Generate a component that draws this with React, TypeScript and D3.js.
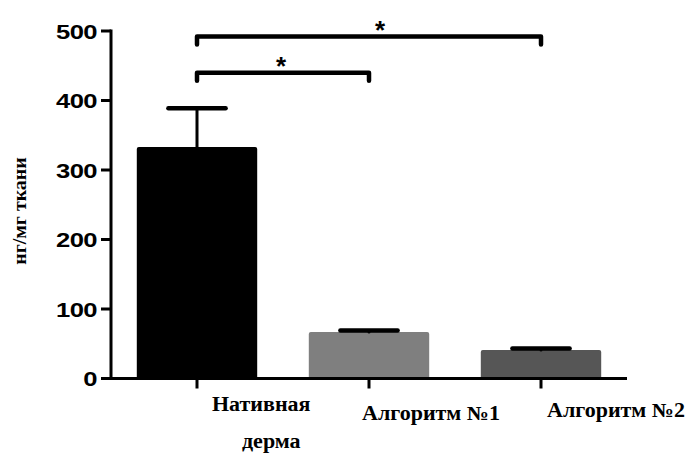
import React from "react";
import * as d3 from "d3";

const categories = ["Нативная|дерма", "Алгоритм №1", "Алгоритм №2"];
const means = [333, 67, 41];
const sems = [56, 2, 2];
const barColors = ["#000000", "#7f7f7f", "#565656"];
const yTicks = [0, 100, 200, 300, 400, 500];
const yLabel = "нг/мг ткани";
const comparisons = [
  { from: 0, to: 1, level: 440, label: "*" },
  { from: 0, to: 2, level: 492, label: "*" },
];
// label layout (offset from band center, baseline)
const labelDx = [15, -7, 6];
const labelY = [411, 420, 417];

export default function App() {
  const W = 688, H = 453;
  const x0 = 111, x1 = 627, yBase = 378.5, yTop = 31;
  const x = d3.scaleBand<string>().domain(categories).range([x0, x1]).paddingInner(0.3).paddingOuter(0.15);
  const y = d3.scaleLinear().domain([0, 500]).range([yBase, yTop]);
  const bw = x.bandwidth();
  const cx = (c: string) => (x(c) as number) + bw / 2;
  const capW = bw * 0.475;

  return (
    <svg width={W} height={H} style={{ position: "absolute", left: 0, top: 0, background: "#fff" }}>
      {/* bars */}
      {categories.map((c, i) => (
        <rect key={c} x={x(c)} y={y(means[i])} width={bw} height={yBase - y(means[i])} fill={barColors[i]} rx={2} />
      ))}
      {/* error bars */}
      {categories.map((c, i) => (
        <g key={"e" + c} stroke="#000" strokeLinecap="round">
          <line x1={cx(c)} x2={cx(c)} y1={y(means[i])} y2={y(means[i] + sems[i])} strokeWidth={3} />
          <line x1={cx(c) - capW / 2} x2={cx(c) + capW / 2} y1={y(means[i] + sems[i])} y2={y(means[i] + sems[i])} strokeWidth={4.5} />
        </g>
      ))}
      {/* y axis */}
      <line x1={x0} x2={x0} y1={yTop - 1.5} y2={yBase + 1.5} stroke="#000" strokeWidth={3} />
      {yTicks.map((t) => (
        <g key={t}>
          <line x1={x0 - 10} x2={x0} y1={y(t)} y2={y(t)} stroke="#000" strokeWidth={3} />
          <text
            transform={`translate(${x0 - 14},${y(t) + 7.5}) scale(1.22,1)`}
            textAnchor="end"
            fontFamily="Liberation Sans, Arial, sans-serif"
            fontWeight="bold"
            fontSize={21}
            letterSpacing={-0.5}
            fill="#000"
          >
            {t}
          </text>
        </g>
      ))}
      {/* x axis */}
      <line x1={x0 - 1.5} x2={x1} y1={yBase} y2={yBase} stroke="#000" strokeWidth={3} />
      {categories.map((c) => (
        <line key={"t" + c} x1={cx(c)} x2={cx(c)} y1={yBase} y2={yBase + 10} stroke="#000" strokeWidth={3} />
      ))}
      {/* x labels */}
      {categories.map((c, i) => {
        const lines = c.split("|");
        return (
          <g key={"l" + c} fontFamily="Liberation Serif, Times New Roman, serif" fontWeight="bold" fontSize={20} fill="#000">
            <text transform={`translate(${cx(c) + labelDx[i]},${labelY[i]}) scale(1.1,1)`} textAnchor="start">
              {lines[0]}
            </text>
            {lines[1] && (
              <text transform={`translate(${cx(c) + labelDx[i] + 30},${labelY[i] + 37}) scale(1.1,1)`} textAnchor="start">
                {lines[1]}
              </text>
            )}
          </g>
        );
      })}
      {/* y label */}
      <text
        transform={`translate(26,211) rotate(-90) scale(1.05,1)`}
        textAnchor="middle"
        fontFamily="Liberation Serif, Times New Roman, serif"
        fontWeight="bold"
        fontSize={19}
        fill="#000"
      >
        {yLabel}
      </text>
      {/* significance brackets */}
      {comparisons.map((cmp, i) => {
        const a = cx(categories[cmp.from]);
        const b = cx(categories[cmp.to]);
        const ly = y(cmp.level);
        const path = `M${a},${ly + 8}V${ly}H${b}V${ly + 8}`;
        return (
          <g key={"c" + i}>
            <path d={path} fill="none" stroke="#000" strokeWidth={4.5} strokeLinejoin="round" strokeLinecap="round" />
            <text
              x={(a + b) / 2 + (i === 0 ? -2 : 11)}
              y={ly + 2}
              textAnchor="middle"
              fontFamily="Liberation Sans, Arial, sans-serif"
              fontWeight="bold"
              fontSize={26}
              fill="#000"
            >
              {cmp.label}
            </text>
          </g>
        );
      })}
    </svg>
  );
}
